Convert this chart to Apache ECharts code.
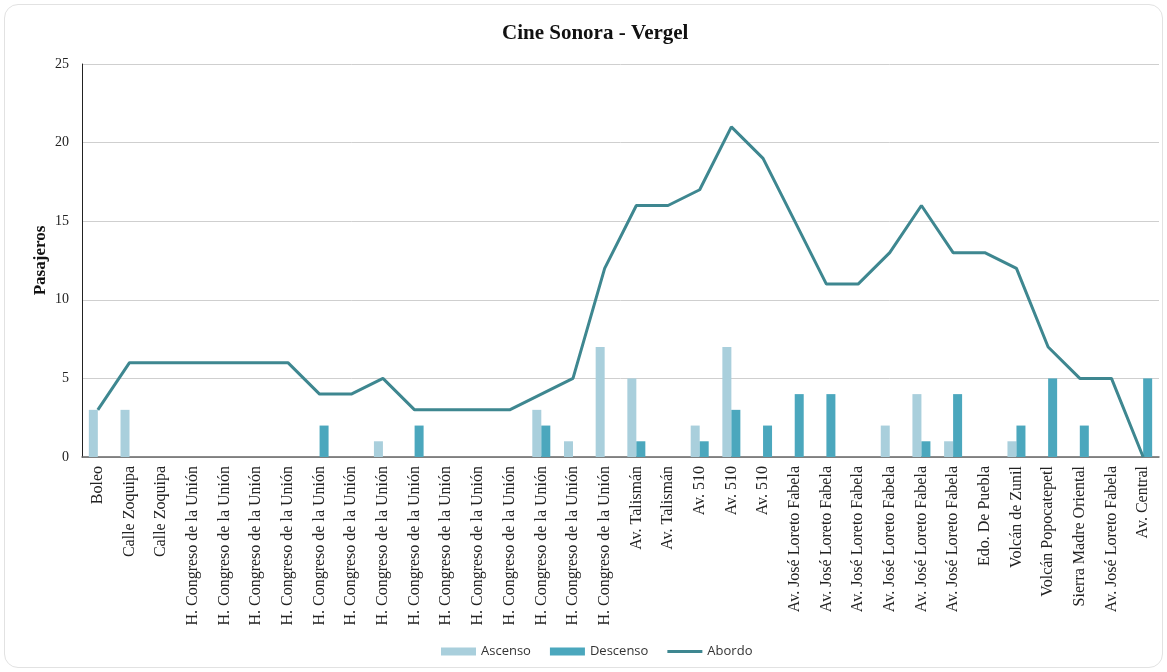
<!DOCTYPE html>
<html>
<head>
<meta charset="utf-8">
<script src="https://cdn.jsdelivr.net/npm/echarts@6/dist/echarts.min.js"></script>
<style>
html,body{margin:0;padding:0;background:#fff;}
#wrap{position:absolute;left:4px;top:4px;width:1157px;height:662px;border:1px solid #e2e2e2;border-radius:14px;}
#chart{position:absolute;left:0;top:0;width:1167px;height:672px;}
</style>
</head>
<body>
<div id="wrap"></div>
<div id="chart"></div>
<script>
const categories = [
  "Boleo","Calle Zoquipa","Calle Zoquipa",
  "H. Congreso de la Unión","H. Congreso de la Unión","H. Congreso de la Unión","H. Congreso de la Unión",
  "H. Congreso de la Unión","H. Congreso de la Unión","H. Congreso de la Unión","H. Congreso de la Unión",
  "H. Congreso de la Unión","H. Congreso de la Unión","H. Congreso de la Unión","H. Congreso de la Unión",
  "H. Congreso de la Unión","H. Congreso de la Unión",
  "Av. Talismán","Av. Talismán","Av. 510","Av. 510","Av. 510",
  "Av. José Loreto Fabela","Av. José Loreto Fabela","Av. José Loreto Fabela","Av. José Loreto Fabela",
  "Av. José Loreto Fabela","Av. José Loreto Fabela",
  "Edo. De Puebla","Volcán de Zunil","Volcán Popocatepetl","Sierra Madre Oriental",
  "Av. José Loreto Fabela","Av. Central"
];
const ascenso  = [3,3,0,0,0,0,0,0,0,1,0,0,0,0,3,1,7,5,0,2,7,0,0,0,0,2,4,1,0,1,0,0,0,0];
const descenso = [0,0,0,0,0,0,0,2,0,0,2,0,0,0,2,0,0,1,0,1,3,2,4,4,0,0,1,4,0,2,5,2,0,5];
const abordo   = [3,6,6,6,6,6,6,4,4,5,3,3,3,3,4,5,12,16,16,17,21,19,15,11,11,13,16,13,13,12,7,5,5,0];
const yTicks = [0,5,10,15,20,25];

const chart = echarts.init(document.getElementById('chart'), null, {renderer:'canvas'});
const serif = '"Liberation Serif","Times New Roman",serif';
chart.setOption({
  animation:false,
  title:{text:'Cine Sonora - Vergel',left:497,top:18,
    textStyle:{fontFamily:serif,fontWeight:'bold',fontSize:21,color:'#111'}},
  grid:{left:82,right:8,top:64,bottom:215,containLabel:false},
  legend:{bottom:9,left:436,itemWidth:35,itemHeight:8,itemGap:19,
    textStyle:{fontFamily:'"Open Sans","Noto Sans",sans-serif',fontSize:13,color:'#333'},
    data:[{name:'Ascenso',icon:'rect'},{name:'Descenso',icon:'rect'},
          {name:'Abordo',icon:'path://M0,0 L35,0 L35,3 L0,3 Z'}]},
  xAxis:{type:'category',data:categories,
    axisLine:{lineStyle:{color:'#666',width:1.5}},
    axisTick:{show:false},
    axisLabel:{rotate:90,interval:0,fontFamily:serif,fontSize:16,color:'#222',margin:9}},
  yAxis:{type:'value',min:0,max:25,interval:5,
    name:'Pasajeros',nameLocation:'middle',nameGap:33,nameRotate:90,nameMoveOverlap:false,
    nameTextStyle:{fontFamily:serif,fontWeight:'bold',fontSize:17,color:'#111'},
    axisLine:{show:true,lineStyle:{color:'#222',width:1}},
    axisTick:{show:false},
    axisLabel:{fontFamily:serif,fontSize:14,color:'#222',margin:13,
      formatter:v=>yTicks.includes(v)?String(v):''},
    splitLine:{lineStyle:{color:'#cfcfcf',width:1}}},
  series:[
    {name:'Ascenso',type:'bar',data:ascenso,barWidth:9,barGap:'0%',
      itemStyle:{color:'#a9cfdc'}},
    {name:'Descenso',type:'bar',data:descenso,barWidth:9,barGap:'0%',
      itemStyle:{color:'#4ba7bd'}},
    {name:'Abordo',type:'line',data:abordo,symbol:'none',
      lineStyle:{color:'#3e8790',width:3},itemStyle:{color:'#3e8790'}}
  ]
});
</script>
</body>
</html>
